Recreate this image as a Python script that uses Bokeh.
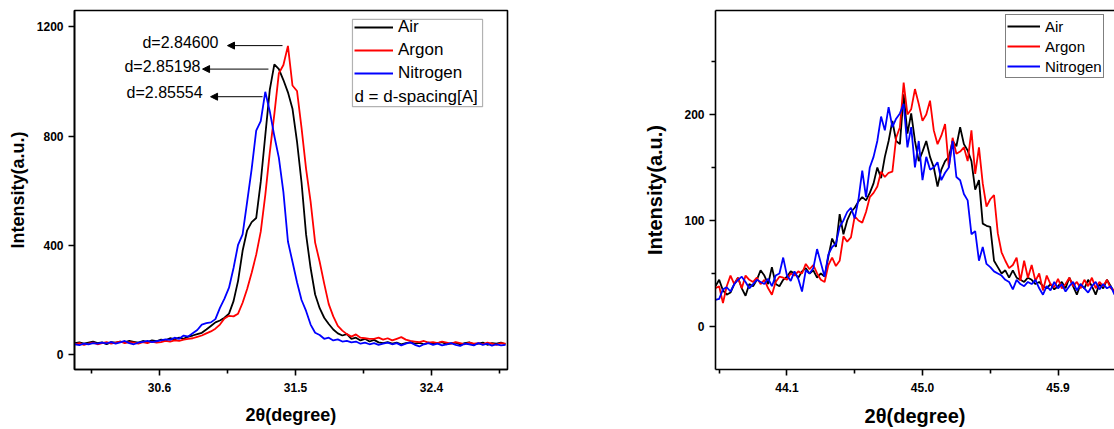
import numpy as np
from bokeh.plotting import figure
from bokeh.layouts import row
from bokeh.models import (ColumnDataSource, FixedTicker, PrintfTickFormatter, Legend, LegendItem,
                          Arrow, NormalHead, Label, BoxAnnotation, LinearAxis)
from bokeh.embed import file_html
from bokeh.resources import INLINE

# ---------------- data: left panel (around 31.4 deg) ----------------
left_x = np.round(30.04 + 0.03 * np.arange(96), 3)
left_air = [42, 45, 40, 44, 48, 42, 45, 38, 46, 44, 48, 45, 50, 47, 44, 50, 46, 52, 49, 55,
            52, 60, 56, 62, 58, 66, 70, 75, 80, 92, 105, 118, 125, 135, 150, 196, 270, 380, 455, 485,
            500, 632, 802, 970, 1062, 1045, 1005, 960, 900, 780, 630, 440, 317, 220, 170, 135, 112, 92, 78, 70,
            75, 58, 62, 52, 58, 48,
            54, 45, 42, 46, 40, 44, 38, 42, 45, 40, 43, 38, 44, 40, 42, 46, 38, 41, 44, 37,
            42, 45, 38, 40, 44, 36, 42, 40, 44, 38]
left_argon = [38, 42, 36, 40, 44, 38, 42, 46, 40, 44, 48, 42, 46, 44, 40, 46, 42, 48, 44, 46,
              50, 48, 52, 50, 55, 58, 60, 65, 70, 78, 85, 95, 110, 132, 142, 140, 150, 190, 240, 300,
              366, 450, 584, 740, 880, 1030, 1060, 1130, 985, 965, 830, 680, 560, 410, 340, 260, 185, 140, 105, 88,
              75, 66, 74, 62, 60, 58,
              58, 62, 55, 60, 52, 58, 64, 55, 50, 48, 46, 50, 44, 46, 42, 48, 44, 40, 46, 42,
              38, 44, 40, 42, 38, 44, 40, 36, 42, 40]
left_nitrogen = [38, 35, 40, 38, 42, 40, 44, 41, 46, 40, 45, 50, 42, 38, 44, 47, 50, 46, 49, 52,
                 56, 54, 62, 58, 70, 66, 78, 90, 110, 115, 118, 130, 171, 205, 245, 317, 402, 440, 559, 680,
                 820, 855, 962, 890, 800, 720, 595, 414, 340, 265, 200, 160, 110, 80, 72, 58, 62, 52, 56, 48,
                 50, 45, 48, 40, 44, 38,
                 42, 36, 40, 44, 38, 42, 34, 40, 45, 36, 30, 38, 42, 36, 40, 34, 38, 42, 36, 32,
                 40, 38, 34, 42, 36, 40, 33, 38, 34, 36]

# ---------------- data: right panel (around 45 deg) ----------------
right_x = np.round(43.625 + 0.025 * np.arange(107), 3)
right_air = [38, 44, 34, 30, 32, 40, 46, 36, 29, 40, 38, 44, 53, 48, 40, 56, 40, 38, 44, 47,
             52, 50, 46, 52, 55, 50, 53, 46, 50, 47, 66, 83, 75, 106, 87, 100, 108, 112, 118, 122,
             119, 126, 135, 150, 140, 160, 175, 194, 175, 172, 219, 182, 201, 175, 156, 165, 175, 160, 150, 132,
             148, 156, 160, 175, 170, 188, 172, 166, 156, 129, 138, 97, 95, 94, 62, 56, 50, 53, 46, 53,
             46, 44, 42, 46, 44, 40, 42, 38, 36, 40, 35, 38, 42, 36, 46, 38, 30, 40, 36, 44,
             38, 30, 40, 36, 44, 38, 32]
right_argon = [36, 38, 22, 38, 48, 40, 46, 36, 48, 44, 42, 46, 40, 44, 36, 30, 42, 47, 46, 44,
               50, 48, 52, 50, 59, 54, 58, 50, 44, 42, 58, 65, 57, 62, 85, 80, 84, 104, 100, 98,
               108, 122, 126, 132, 146, 141, 145, 146, 178, 188, 230, 200, 205, 224, 210, 194, 200, 213, 185, 172,
               180, 191, 150, 178, 163, 165, 169, 156, 185, 144, 169, 135, 113, 120, 124, 88, 70, 62, 55, 58,
               65, 43, 62, 46, 58, 43, 50, 34, 48, 40, 37, 45, 36, 40, 46, 38, 42, 36, 44, 38,
               46, 36, 42, 38, 44, 36, 34]
right_nitrogen = [25, 26, 35, 37, 33, 40, 44, 47, 42, 36, 40, 44, 42, 40, 45, 38, 48, 50, 65, 48,
                  43, 52, 45, 33, 53, 50, 55, 73, 60, 47, 68, 75, 78, 94, 100, 108, 112, 102, 120, 147,
                  122, 150, 160, 175, 198, 185, 207, 188, 196, 201, 210, 169, 188, 150, 175, 138, 160, 148, 150, 155,
                  138, 145, 150, 175, 141, 138, 125, 119, 87, 90, 62, 75, 59, 56, 52, 50, 48, 44, 42, 35,
                  44, 40, 38, 42, 40, 44, 36, 30, 38, 34, 42, 36, 40, 33, 38, 42, 34, 40, 36, 32,
                  38, 42, 35, 40, 36, 38, 30]

series_names = ["Air", "Argon", "Nitrogen"]
series_colors = ["#000000", "#FF0000", "#0000FF"]

left_xticks = [30.6, 31.5, 32.4]
left_xminor = [30.15, 31.05, 31.95, 32.85]
left_yticks = [0, 400, 800, 1200]
right_xticks = [44.1, 45.0, 45.9]
right_xminor = [43.65, 44.55, 45.45, 46.35]
right_yticks = [0, 100, 200]
right_yminor = [50, 150, 250]

# peak annotations (left panel)
ann_text = ["d=2.84600", "d=2.85198", "d=2.85554"]
ann_text_x = [30.487, 30.368, 30.382]
ann_text_y = [1143, 1056, 958]
arrow_x0 = [31.414, 31.321, 31.282]
arrow_x1 = [31.05, 30.885, 30.938]
arrow_y = [1131, 1045, 944]

FONT = "Liberation Sans"


def style(p, xt, xm, yt, ym, tick_size, label_size, y_standoff, x_standoff):
    p.grid.visible = False
    p.xaxis.ticker = FixedTicker(ticks=xt, minor_ticks=xm)
    p.yaxis.ticker = FixedTicker(ticks=yt, minor_ticks=ym)
    p.xaxis.formatter = PrintfTickFormatter(format="%.1f")
    for ax in (p.xaxis[0], p.yaxis[0]):
        ax.axis_line_width = 1.6
        ax.axis_line_color = "black"
        ax.major_tick_line_width = 1.6
        ax.minor_tick_line_width = 1.6
        ax.major_tick_out = 6
        ax.major_tick_in = 0
        ax.minor_tick_out = 4
        ax.minor_tick_in = 0
        ax.major_label_text_font = FONT
        ax.major_label_text_font_style = "bold"
        ax.major_label_text_font_size = tick_size
        ax.major_label_text_color = "black"
        ax.axis_label_text_font = FONT
        ax.axis_label_text_font_style = "bold"
        ax.axis_label_text_font_size = label_size
        ax.axis_label_text_color = "black"
    p.xaxis.major_label_standoff = 7
    p.yaxis.major_label_standoff = 5
    p.yaxis.axis_label_standoff = y_standoff
    p.xaxis.axis_label_standoff = x_standoff


# ---------------- left figure ----------------
p1 = figure(width=560, height=429, x_range=(30.0375, 32.903), y_range=(-54.4, 1259.5),
            output_backend="svg", toolbar_location=None,
            min_border_left=74, min_border_right=53, min_border_top=7, min_border_bottom=60,
            x_axis_label="2θ(degree)", y_axis_label="Intensity(a.u.)")
p1.outline_line_color = "black"
p1.outline_line_width = 1.6
style(p1, left_xticks, left_xminor, left_yticks, [], "12px", "18px", 6, 10)

r1 = []
for ys, c in zip([left_air, left_argon, left_nitrogen], series_colors):
    r1.append(p1.line(left_x, ys, line_color=c, line_width=1.8))

for t, tx, ty in zip(ann_text, ann_text_x, ann_text_y):
    p1.add_layout(Label(x=tx, y=ty, text=t, text_font=FONT, text_font_size="16px",
                        text_baseline="middle", text_color="black"))
for x0, x1, y in zip(arrow_x0, arrow_x1, arrow_y):
    p1.add_layout(Arrow(end=NormalHead(size=7, fill_color="black", line_color="black"),
                        x_start=x0, y_start=y, x_end=x1, y_end=y,
                        line_color="black", line_width=1))

p1.add_layout(BoxAnnotation(left=31.877, right=32.738, top=1226.9, bottom=907.4,
                            fill_color="white", fill_alpha=1, line_color="black", line_width=1.2))
leg1 = Legend(items=[LegendItem(label=n, renderers=[r]) for n, r in zip(series_names, r1)],
              location=(280, 285), padding=0, margin=0, spacing=1,
              label_height=22, glyph_height=22, glyph_width=39, label_standoff=5,
              label_text_font=FONT, label_text_font_size="17px", label_text_color="black",
              border_line_alpha=0, background_fill_alpha=0)
p1.add_layout(leg1)
p1.add_layout(Label(x=31.89, y=945, text="d = d-spacing[A]", text_font=FONT,
                    text_font_size="17px", text_baseline="middle", text_color="black"))

# ---------------- right figure ----------------
p2 = figure(width=554, height=429, x_range=(43.6255, 46.275), y_range=(-40.6, 298.1),
            output_backend="svg", toolbar_location=None,
            min_border_left=155, min_border_right=0, min_border_top=10, min_border_bottom=60,
            x_axis_label="2θ(degree)", y_axis_label="Intensity(a.u.)")
p2.outline_line_color = None
style(p2, right_xticks, right_xminor, right_yticks, right_yminor, "12px", "20px", 15, 10)
top_axis = LinearAxis(ticker=FixedTicker(ticks=[]), major_label_text_font_size="0px",
                      axis_line_width=1.6, major_tick_out=0, minor_tick_out=0)
p2.add_layout(top_axis, "above")

r2 = []
for ys, c in zip([right_air, right_argon, right_nitrogen], series_colors):
    r2.append(p2.line(right_x, ys, line_color=c, line_width=1.8))

leg2 = Legend(items=[LegendItem(label=n, renderers=[r]) for n, r in zip(series_names, r2)],
              location=(290, 291), padding=1, margin=0, spacing=0,
              label_height=20, glyph_height=20, glyph_width=33, label_standoff=5,
              label_text_font=FONT, label_text_font_size="15px", label_text_color="black",
              border_line_color="black", border_line_width=1.2, background_fill_color="white")
p2.add_layout(leg2)

layout = row(p1, p2)
open("out.html", "w").write(file_html(layout, INLINE))
